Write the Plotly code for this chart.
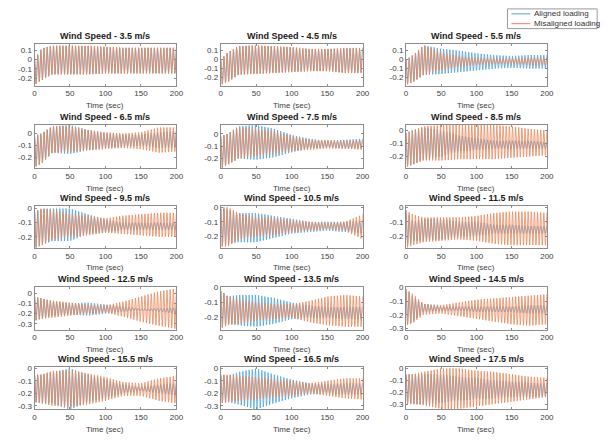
import numpy as np
import plotly.graph_objects as go
from plotly.subplots import make_subplots

# ---------------- data ----------------
WIND_SPEEDS = [3.5, 4.5, 5.5, 6.5, 7.5, 8.5, 9.5, 10.5, 11.5, 12.5, 13.5, 14.5, 15.5, 16.5, 17.5]
SERIES_NAMES = ["Aligned loading", "Misaligned loading"]

# times (sec) at which the oscillation envelopes were read
T_KNOTS = [0, 10, 25, 50, 75, 100, 125, 150, 175, 200]
FREQ_HZ = 0.225  # oscillation frequency (about 45 cycles over 200 s)

ALIGNED_UPPER = [
    [0.00, 0.12, 0.15, 0.15, 0.145, 0.135, 0.125, 0.125, 0.125, 0.125],
    [0.00, 0.08, 0.15, 0.155, 0.145, 0.135, 0.115, 0.115, 0.125, 0.125],
    [0.00, 0.05, 0.16, 0.12, 0.10, 0.07, 0.05, 0.04, 0.05, 0.05],
    [-0.02, 0.00, 0.06, 0.07, 0.03, 0.00, -0.01, -0.01, 0.01, 0.02],
    [-0.02, 0.00, 0.06, 0.07, 0.04, -0.01, -0.04, -0.06, -0.05, -0.04],
    [-0.02, 0.00, 0.02, 0.00, -0.04, -0.06, -0.08, -0.08, -0.08, -0.09],
    [-0.02, 0.00, 0.00, 0.00, -0.04, -0.08, -0.10, -0.10, -0.10, -0.10],
    [0.00, -0.02, -0.04, -0.04, -0.06, -0.08, -0.10, -0.10, -0.10, -0.09],
    [-0.02, -0.10, -0.08, -0.08, -0.10, -0.10, -0.12, -0.12, -0.13, -0.13],
    [-0.03, -0.05, -0.08, -0.10, -0.09, -0.11, -0.13, -0.15, -0.15, -0.14],
    [-0.02, -0.06, -0.05, -0.05, -0.07, -0.10, -0.12, -0.13, -0.13, -0.13],
    [-0.01, -0.07, -0.12, -0.14, -0.14, -0.14, -0.14, -0.14, -0.13, -0.13],
    [-0.05, -0.05, -0.03, 0.00, -0.05, -0.09, -0.13, -0.15, -0.13, -0.12],
    [-0.05, -0.06, -0.03, 0.00, -0.05, -0.09, -0.12, -0.13, -0.12, -0.12],
    [-0.05, -0.05, -0.05, -0.05, -0.07, -0.08, -0.10, -0.11, -0.12, -0.13],
]
ALIGNED_LOWER = [
    [-0.27, -0.22, -0.155, -0.155, -0.155, -0.145, -0.145, -0.145, -0.145, -0.145],
    [-0.28, -0.25, -0.165, -0.155, -0.145, -0.135, -0.125, -0.125, -0.145, -0.145],
    [-0.28, -0.25, -0.17, -0.16, -0.14, -0.12, -0.10, -0.09, -0.10, -0.10],
    [-0.28, -0.25, -0.16, -0.17, -0.14, -0.12, -0.11, -0.10, -0.12, -0.12],
    [-0.28, -0.25, -0.20, -0.21, -0.19, -0.15, -0.12, -0.11, -0.12, -0.12],
    [-0.28, -0.26, -0.22, -0.20, -0.16, -0.15, -0.14, -0.14, -0.14, -0.14],
    [-0.28, -0.26, -0.23, -0.23, -0.18, -0.17, -0.15, -0.15, -0.15, -0.15],
    [-0.27, -0.25, -0.24, -0.24, -0.21, -0.18, -0.17, -0.16, -0.17, -0.18],
    [-0.28, -0.23, -0.23, -0.22, -0.20, -0.20, -0.18, -0.18, -0.18, -0.18],
    [-0.27, -0.25, -0.22, -0.21, -0.22, -0.20, -0.18, -0.17, -0.18, -0.20],
    [-0.27, -0.24, -0.25, -0.26, -0.24, -0.21, -0.20, -0.20, -0.21, -0.21],
    [-0.28, -0.25, -0.18, -0.17, -0.17, -0.18, -0.18, -0.18, -0.19, -0.19],
    [-0.27, -0.28, -0.28, -0.33, -0.27, -0.24, -0.20, -0.18, -0.20, -0.22],
    [-0.28, -0.27, -0.29, -0.33, -0.28, -0.24, -0.21, -0.20, -0.21, -0.21],
    [-0.30, -0.30, -0.30, -0.29, -0.27, -0.26, -0.25, -0.24, -0.24, -0.23],
]
MISALIGNED_UPPER = [
    [0.00, 0.12, 0.15, 0.15, 0.15, 0.14, 0.13, 0.13, 0.13, 0.13],
    [0.00, 0.08, 0.15, 0.16, 0.15, 0.14, 0.12, 0.12, 0.13, 0.13],
    [0.00, 0.05, 0.16, 0.08, 0.04, 0.02, 0.01, 0.01, 0.02, 0.02],
    [-0.02, 0.00, 0.06, 0.06, 0.03, 0.01, 0.00, 0.01, 0.05, 0.05],
    [-0.02, 0.00, 0.05, 0.04, 0.02, -0.02, -0.05, -0.05, -0.06, -0.05],
    [-0.02, 0.00, 0.03, 0.04, 0.04, 0.04, 0.04, 0.03, 0.01, 0.00],
    [-0.02, 0.00, -0.01, -0.04, -0.05, -0.07, -0.05, -0.04, -0.03, -0.03],
    [0.00, 0.00, -0.04, -0.07, -0.07, -0.09, -0.10, -0.11, -0.10, -0.05],
    [-0.02, -0.05, -0.07, -0.07, -0.07, -0.06, -0.04, -0.03, -0.03, -0.04],
    [-0.03, -0.05, -0.07, -0.09, -0.11, -0.12, -0.08, -0.03, 0.02, 0.05],
    [-0.02, -0.06, -0.08, -0.10, -0.11, -0.11, -0.09, -0.06, -0.05, -0.06],
    [-0.01, -0.05, -0.12, -0.13, -0.11, -0.09, -0.08, -0.07, -0.06, -0.05],
    [-0.05, -0.05, -0.02, -0.02, -0.04, -0.07, -0.11, -0.12, -0.08, -0.06],
    [-0.05, -0.05, -0.06, -0.07, -0.09, -0.10, -0.12, -0.10, -0.08, -0.08],
    [-0.05, -0.05, -0.03, 0.00, 0.00, -0.02, -0.03, -0.05, -0.07, -0.08],
]
MISALIGNED_LOWER = [
    [-0.27, -0.22, -0.16, -0.16, -0.16, -0.15, -0.15, -0.15, -0.15, -0.15],
    [-0.28, -0.25, -0.17, -0.16, -0.15, -0.14, -0.13, -0.13, -0.15, -0.15],
    [-0.28, -0.25, -0.17, -0.12, -0.08, -0.06, -0.05, -0.05, -0.06, -0.06],
    [-0.28, -0.25, -0.16, -0.15, -0.14, -0.13, -0.12, -0.13, -0.16, -0.15],
    [-0.28, -0.25, -0.20, -0.18, -0.16, -0.14, -0.13, -0.12, -0.12, -0.13],
    [-0.28, -0.26, -0.23, -0.23, -0.22, -0.22, -0.22, -0.21, -0.20, -0.19],
    [-0.28, -0.26, -0.22, -0.20, -0.19, -0.17, -0.18, -0.19, -0.20, -0.20],
    [-0.27, -0.27, -0.22, -0.20, -0.19, -0.17, -0.16, -0.15, -0.16, -0.22],
    [-0.28, -0.26, -0.24, -0.23, -0.22, -0.23, -0.25, -0.26, -0.26, -0.26],
    [-0.27, -0.25, -0.24, -0.22, -0.20, -0.19, -0.23, -0.28, -0.32, -0.35],
    [-0.27, -0.25, -0.24, -0.22, -0.21, -0.20, -0.23, -0.25, -0.26, -0.26],
    [-0.28, -0.26, -0.20, -0.19, -0.21, -0.23, -0.25, -0.27, -0.28, -0.27],
    [-0.27, -0.28, -0.30, -0.31, -0.29, -0.26, -0.22, -0.22, -0.26, -0.28],
    [-0.28, -0.27, -0.26, -0.25, -0.23, -0.22, -0.20, -0.22, -0.24, -0.25],
    [-0.30, -0.30, -0.31, -0.34, -0.34, -0.32, -0.30, -0.28, -0.26, -0.24],
]

Y_RANGES = [
    [-0.28, 0.165], [-0.29, 0.17], [-0.29, 0.17],
    [-0.29, 0.07], [-0.28, 0.07], [-0.29, 0.04],
    [-0.28, 0.02], [-0.28, 0.01], [-0.28, 0.01],
    [-0.36, 0.06], [-0.28, 0.0], [-0.31, 0.0],
    [-0.33, 0.01], [-0.33, 0.01], [-0.345, 0.01],
]
Y_TICKS = [
    [0.1, 0, -0.1, -0.2], [0.1, 0, -0.1, -0.2], [0.1, 0, -0.1, -0.2],
    [0, -0.1, -0.2], [0, -0.1, -0.2], [0, -0.1, -0.2],
    [0, -0.1, -0.2], [0, -0.1, -0.2], [0, -0.1, -0.2],
    [0, -0.1, -0.2, -0.3], [0, -0.1, -0.2], [0, -0.1, -0.2, -0.3],
    [0, -0.1, -0.2, -0.3], [0, -0.1, -0.2, -0.3], [0, -0.1, -0.2, -0.3],
]
X_TICKS = [0, 50, 100, 150, 200]
X_LABEL = "Time (sec)"

# ---------------- styling ----------------
W, H = 614, 442
BLUE = "#4ea5de"
ORANGE = "#ec8659"
FONT = "Liberation Sans, Arial, sans-serif"
COL_PX = [(33, 177), (222, 366), (410, 553)]
ROW_PX = [(41, 83), (123, 167), (205, 248), (288, 331), (369, 412)]

t = np.arange(0, 200.001, 0.1)

def signal(upper, lower):
    up = np.interp(t, T_KNOTS, upper)
    lo = np.interp(t, T_KNOTS, lower)
    c = (up + lo) / 2
    a = (up - lo) / 2
    return c + a * np.cos(2 * np.pi * FREQ_HZ * t)

fig = make_subplots(rows=5, cols=3)
annotations = []
for i, ws in enumerate(WIND_SPEEDS):
    r, c = i // 3 + 1, i % 3 + 1
    ya = signal(ALIGNED_UPPER[i], ALIGNED_LOWER[i])
    ym = signal(MISALIGNED_UPPER[i], MISALIGNED_LOWER[i])
    fig.add_trace(go.Scatter(x=t, y=ya, mode="lines", line=dict(color=BLUE, width=0.8),
                             name=SERIES_NAMES[0], showlegend=False), row=r, col=c)
    fig.add_trace(go.Scatter(x=t, y=ym, mode="lines", line=dict(color=ORANGE, width=0.8),
                             name=SERIES_NAMES[1], showlegend=False), row=r, col=c)
    x0, x1 = COL_PX[c - 1]
    y0, y1 = ROW_PX[r - 1]
    xd = [x0 / W, x1 / W]
    yd = [1 - y1 / H, 1 - y0 / H]
    axis_common = dict(showline=True, mirror="ticks", linecolor="#8c8c8c", linewidth=1,
                       ticks="inside", ticklen=2, tickcolor="#8c8c8c", showgrid=False,
                       zeroline=False, tickfont=dict(family=FONT, size=8, color="#404040"))
    fig.update_xaxes(domain=xd, range=[0, 200], tickvals=X_TICKS,
                     ticktext=[str(v) for v in X_TICKS], row=r, col=c, **axis_common)
    fig.update_yaxes(domain=yd, range=Y_RANGES[i], tickvals=Y_TICKS[i],
                     ticktext=[("%g" % v) for v in Y_TICKS[i]], row=r, col=c, **axis_common)
    cx = (x0 + x1) / 2 / W
    annotations.append(dict(text="<b>Wind Speed - %g m/s</b>" % ws, x=cx, y=1 - (y0 - 1) / H,
                            xref="paper", yref="paper", xanchor="center", yanchor="bottom",
                            showarrow=False, font=dict(family=FONT, size=9, color="#1a1a1a")))
    annotations.append(dict(text=X_LABEL, x=cx, y=1 - (y1 + 20) / H, xref="paper", yref="paper",
                            xanchor="center", yanchor="middle", showarrow=False,
                            font=dict(family=FONT, size=8, color="#404040")))

# manual legend box (top right)
LX0, LX1, LY0, LY1 = 513, 604, 5, 25
shapes = [dict(type="rect", xref="paper", yref="paper", x0=LX0 / W, x1=LX1 / W,
               y0=1 - LY1 / H, y1=1 - LY0 / H, line=dict(color="#9a9a9a", width=1),
               fillcolor="white")]
for k, (name, col) in enumerate(zip(SERIES_NAMES, [BLUE, ORANGE])):
    yy = 1 - (10 + 10 * k) / H
    shapes.append(dict(type="line", xref="paper", yref="paper", x0=517 / W, x1=536 / W,
                       y0=yy, y1=yy, line=dict(color=col, width=1)))
    annotations.append(dict(text=name, x=538 / W, y=yy, xref="paper", yref="paper",
                            xanchor="left", yanchor="middle", showarrow=False,
                            font=dict(family=FONT, size=8, color="#333333")))

fig.update_layout(width=W, height=H, margin=dict(l=0, r=0, t=0, b=0),
                  plot_bgcolor="white", paper_bgcolor="white",
                  annotations=annotations, shapes=shapes, showlegend=False)
fig.write_html("out.html")
